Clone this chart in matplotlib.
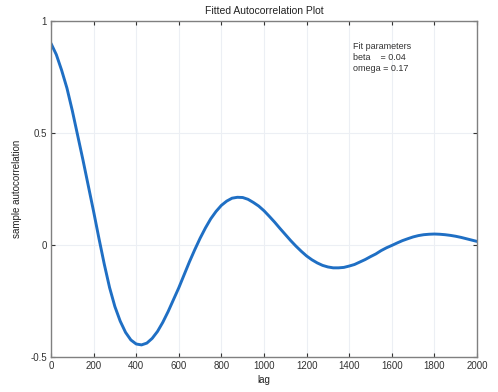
import matplotlib
matplotlib.use('Agg')
import matplotlib.pyplot as plt

# lag values (step 25) and fitted autocorrelation
lag = list(range(0, 2001, 25))
acf = [0.90, 0.85, 0.78, 0.70, 0.60, 0.49, 0.38, 0.265, 0.15, 0.03,
       -0.085, -0.19, -0.275, -0.34, -0.39, -0.424, -0.442, -0.446, -0.438, -0.417,
       -0.386, -0.345, -0.297, -0.244, -0.191, -0.133, -0.075, -0.021, 0.030, 0.076,
       0.117, 0.150, 0.177, 0.196, 0.209, 0.213, 0.212, 0.204, 0.190, 0.174,
       0.153, 0.128, 0.102, 0.074, 0.047, 0.020, -0.005, -0.028, -0.049, -0.066,
       -0.080, -0.091, -0.098, -0.102, -0.102, -0.100, -0.094, -0.087, -0.076, -0.065,
       -0.052, -0.040, -0.025, -0.0125, -0.002, 0.009, 0.0195, 0.028, 0.036, 0.042,
       0.046, 0.048, 0.049, 0.048, 0.046, 0.043, 0.039, 0.034, 0.028, 0.022,
       0.016]

xticks = list(range(0, 2001, 200))
yticks = [-0.5, 0, 0.5, 1]
ytick_labels = ['-0.5', '0', '0.5', '1']
fit_text = 'Fit parameters\nbeta    = 0.04\nomega = 0.17'

plt.rcParams['font.family'] = ['Liberation Sans', 'DejaVu Sans']

fig = plt.figure(figsize=(4.98, 3.92), dpi=100)
ax = fig.add_axes([0.1024, 0.0893, 0.8554, 0.8571])

ax.plot(lag, acf, color='#1f6fc4', linewidth=2.1, solid_capstyle='round',
        solid_joinstyle='round')

ax.set_xlim(0, 2000)
ax.set_ylim(-0.5, 1)
ax.set_xticks(xticks)
ax.set_yticks(yticks)
ax.set_yticklabels(ytick_labels)
ax.tick_params(direction='in', length=3, labelsize=7, colors='#333333',
               top=True, right=True, pad=3)
ax.grid(True, color='#eceff4', linewidth=0.8)
for s in ax.spines.values():
    s.set_color('#808080')
    s.set_linewidth(1.0)

ax.set_title('Fitted Autocorrelation Plot', fontsize=7.5, color='#222222', pad=5)
ax.set_xlabel('lag', fontsize=7, color='#222222', labelpad=3)
ax.set_ylabel('sample autocorrelation', fontsize=7, color='#222222')
ax.yaxis.set_label_coords(-0.068, 0.5)

ax.text(1420, 0.905, fit_text, fontsize=6.5, color='#333333',
        va='top', ha='left', linespacing=1.25)

fig.savefig('out.png', dpi=100)
